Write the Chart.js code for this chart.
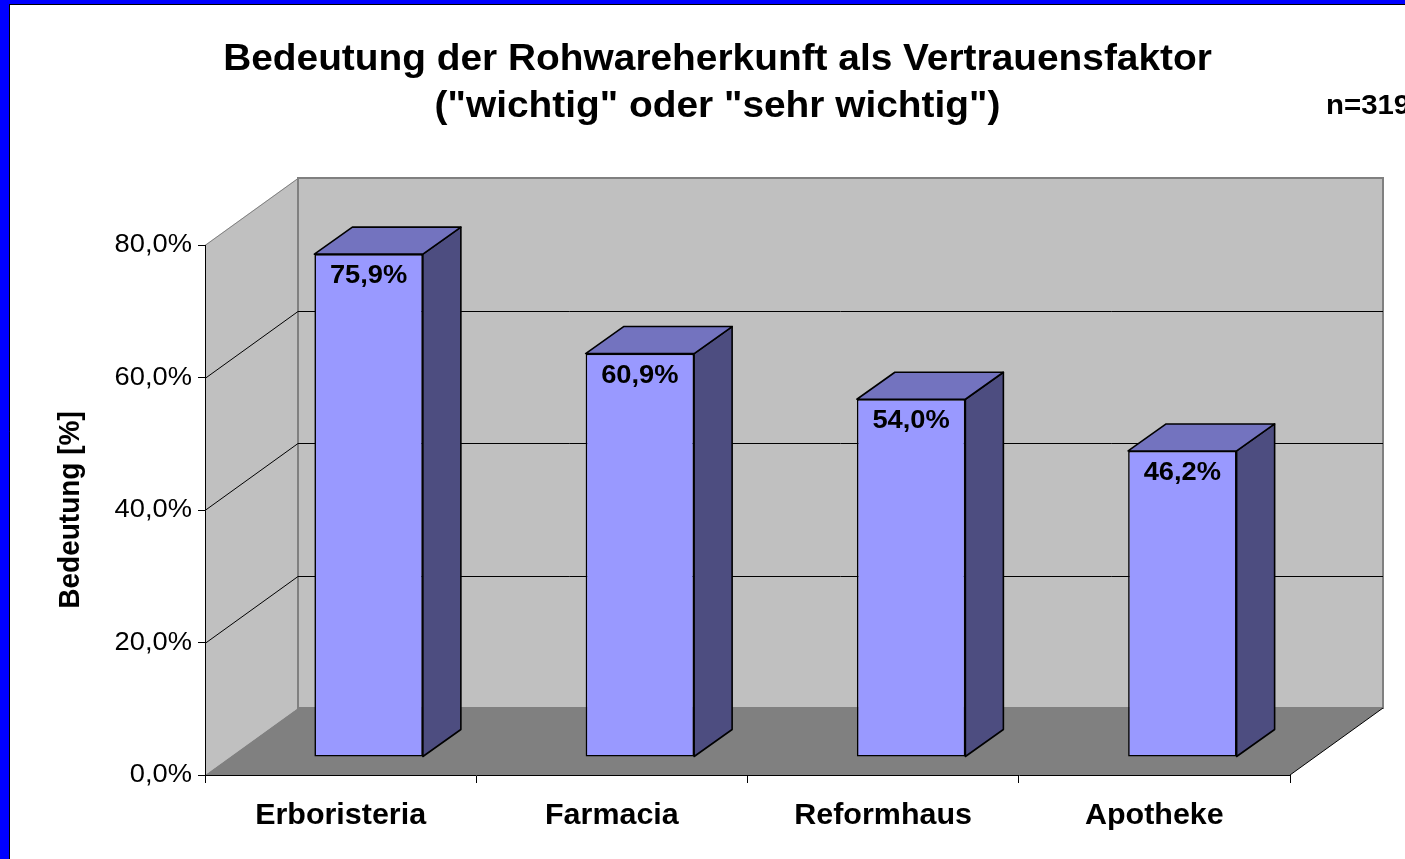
<!DOCTYPE html>
<html><head><meta charset="utf-8">
<script src="https://cdn.jsdelivr.net/npm/chart.js@4/dist/chart.umd.min.js"></script>
<style>html,body{margin:0;padding:0;background:#fff;overflow:hidden}canvas{display:block}</style>
</head><body>
<canvas id="c" width="1405" height="859"></canvas>
<script>
// ---- data ----
const categories = ['Erboristeria', 'Farmacia', 'Reformhaus', 'Apotheke'];
const values = [75.9, 60.9, 54.0, 46.2];
const yTicks = [0, 20, 40, 60, 80];
const titleLines = ['Bedeutung der Rohwareherkunft als Vertrauensfaktor', '("wichtig" oder "sehr wichtig")'];
const yAxisTitle = 'Bedeutung [%]';
const sampleNote = 'n=319';

// ---- styling ----
const FONT = "'Liberation Sans', Arial, Helvetica, sans-serif";
const SX = 1.05;                      // horizontal text stretch of the original picture
const BACK = {dx: 93, dy: -67};       // depth of the 3D box
const BAR_OFF = {dx: 28, dy: -18};    // bar front plane offset
const DEPTH = {dx: 38, dy: -27};      // bar depth
const fmt = v => v.toFixed(1).replace('.', ',') + '%';

const stretchPlugin = {
  id: 'stretch',
  beforeInit(chart) {
    const ctx = chart.ctx;
    const orig = ctx.fillText;
    ctx.fillText = function (t, x, y) {
      const m = ctx.getTransform();
      ctx.save();
      ctx.translate(x, y);
      if (Math.abs(m.b) > 0.5) ctx.scale(1, SX); else ctx.scale(SX, 1);
      orig.call(ctx, t, 0, 0);
      ctx.restore();
    };
  }
};

function poly(ctx, pts, fill, stroke, lw) {
  ctx.beginPath();
  ctx.moveTo(pts[0][0], pts[0][1]);
  for (let i = 1; i < pts.length; i++) ctx.lineTo(pts[i][0], pts[i][1]);
  ctx.closePath();
  if (fill) { ctx.fillStyle = fill; ctx.fill(); }
  if (stroke) { ctx.strokeStyle = stroke; ctx.lineWidth = lw || 1; ctx.stroke(); }
}
function line(ctx, x1, y1, x2, y2, col, lw) {
  ctx.beginPath(); ctx.moveTo(x1, y1); ctx.lineTo(x2, y2);
  ctx.strokeStyle = col; ctx.lineWidth = lw || 1; ctx.stroke();
}

const box3d = {
  id: 'box3d',
  beforeDraw(chart) {
    const ctx = chart.ctx;
    const W = chart.width, H = chart.height;
    ctx.save();
    // frame
    ctx.fillStyle = '#0000FF'; ctx.fillRect(0, 0, W, H);
    ctx.fillStyle = '#FFFFFF'; ctx.fillRect(10, 5, W - 10, H - 5);
    line(ctx, 9.5, 4, 9.5, H, '#000', 1);
    line(ctx, 9, 4.5, W, 4.5, '#000', 1);

    const xs = chart.scales.x, ys = chart.scales.y;
    const L = xs.left, R = xs.right;
    const y0 = ys.getPixelForValue(yTicks[0]);
    const yT = ys.getPixelForValue(yTicks[yTicks.length - 1]);
    const dx = BACK.dx, dy = BACK.dy;
    // left wall
    poly(ctx, [[L, y0], [L, yT], [L + dx, yT + dy], [L + dx, y0 + dy]], '#C0C0C0');
    // back wall
    poly(ctx, [[L + dx, yT + dy], [R + dx, yT + dy], [R + dx, y0 + dy], [L + dx, y0 + dy]], '#C0C0C0', '#808080', 2);
    // floor
    poly(ctx, [[L, y0], [R, y0], [R + dx, y0 + dy], [L + dx, y0 + dy]], '#808080');
    line(ctx, R, y0, R + dx, y0 + dy, '#000', 1);
    // gridlines
    yTicks.forEach(v => {
      if (v === yTicks[0]) return;
      const p = Math.round(ys.getPixelForValue(v)) + 0.5;
      const col = v === yTicks[yTicks.length - 1] ? '#808080' : '#000';
      line(ctx, L, p, L + dx, p + dy, col, 1);
      if (v !== yTicks[yTicks.length - 1]) line(ctx, L + dx, p + dy, R + dx, p + dy, col, 1);
    });
    ctx.restore();
  },
  beforeDatasetsDraw(chart) {
    chart.ctx.save();
    chart.ctx.translate(BAR_OFF.dx, BAR_OFF.dy);
  },
  afterDatasetsDraw(chart) {
    const ctx = chart.ctx;
    const meta = chart.getDatasetMeta(0);
    ctx.lineJoin = 'round';
    meta.data.forEach(bar => {
      const xl = bar.x - bar.width / 2, xr = bar.x + bar.width / 2;
      const top = bar.y, base = bar.base;
      poly(ctx, [[xr, top], [xr + DEPTH.dx, top + DEPTH.dy], [xr + DEPTH.dx, base + DEPTH.dy], [xr, base]], '#4D4D80', '#000', 1.6);
      poly(ctx, [[xl, top], [xl + DEPTH.dx, top + DEPTH.dy], [xr + DEPTH.dx, top + DEPTH.dy], [xr, top]], '#7373BF', '#000', 1.6);
    });
    ctx.restore();
    ctx.save();
    ctx.fillStyle = '#000';
    ctx.font = 'bold 26px ' + FONT;
    ctx.textAlign = 'center';
    ctx.textBaseline = 'middle';
    meta.data.forEach((bar, i) => {
      ctx.fillText(fmt(values[i]), bar.x + BAR_OFF.dx, bar.y + BAR_OFF.dy + 22);
    });
    ctx.restore();
  },
  afterDraw(chart) {
    const ctx = chart.ctx;
    ctx.save();
    ctx.fillStyle = '#000';
    ctx.font = 'bold 28px ' + FONT;
    ctx.textAlign = 'left';
    ctx.textBaseline = 'middle';
    ctx.fillText(sampleNote, 1326, 106);
    ctx.restore();
  }
};

new Chart(document.getElementById('c'), {
  type: 'bar',
  data: {
    labels: categories,
    datasets: [{
      data: values,
      backgroundColor: '#9999FF',
      borderColor: '#000',
      borderWidth: 1.6,
      borderSkipped: false,
      barPercentage: 0.4,
      categoryPercentage: 1.0,
      clip: false
    }]
  },
  options: {
    responsive: false,
    animation: false,
    devicePixelRatio: 1,
    layout: {padding: {left: 30, top: 0, right: 0, bottom: 24}},
    plugins: {
      legend: {display: false},
      tooltip: {enabled: false},
      title: {
        display: true, text: titleLines, color: '#000',
        font: {family: FONT, size: 37, weight: 'bold', lineHeight: 47 / 37},
        padding: {top: 36, bottom: 115}
      }
    },
    scales: {
      x: {
        type: 'category', offset: true,
        grid: {offset: true, drawOnChartArea: false, drawTicks: true, tickLength: 8, color: '#000', lineWidth: 1},
        border: {display: true, color: '#000', width: 1},
        ticks: {color: '#000', font: {family: FONT, size: 29, weight: 'bold'}, padding: 16, maxRotation: 0, autoSkip: false},
        afterFit(s) { s.height = 60; }
      },
      y: {
        type: 'linear', position: 'left', min: yTicks[0], max: yTicks[yTicks.length - 1],
        afterBuildTicks(s) { s.ticks = yTicks.map(v => ({value: v})); },
        ticks: {callback: v => fmt(v), color: '#000', font: {family: FONT, size: 26}, padding: 6},
        grid: {drawOnChartArea: false, drawTicks: true, tickLength: 7, color: '#000'},
        border: {display: true, color: '#000', width: 1},
        title: {display: true, text: yAxisTitle, color: '#000', font: {family: FONT, size: 28, weight: 'bold'}, padding: {top: 24, bottom: 0}},
        afterFit(s) { s.width = 175; }
      },
      y2: {
        type: 'linear', position: 'right', display: true,
        grid: {display: false, drawTicks: false}, border: {display: false}, ticks: {display: false},
        afterFit(s) { s.width = 115; }
      }
    }
  },
  plugins: [stretchPlugin, box3d]
});
</script>
</body></html>
